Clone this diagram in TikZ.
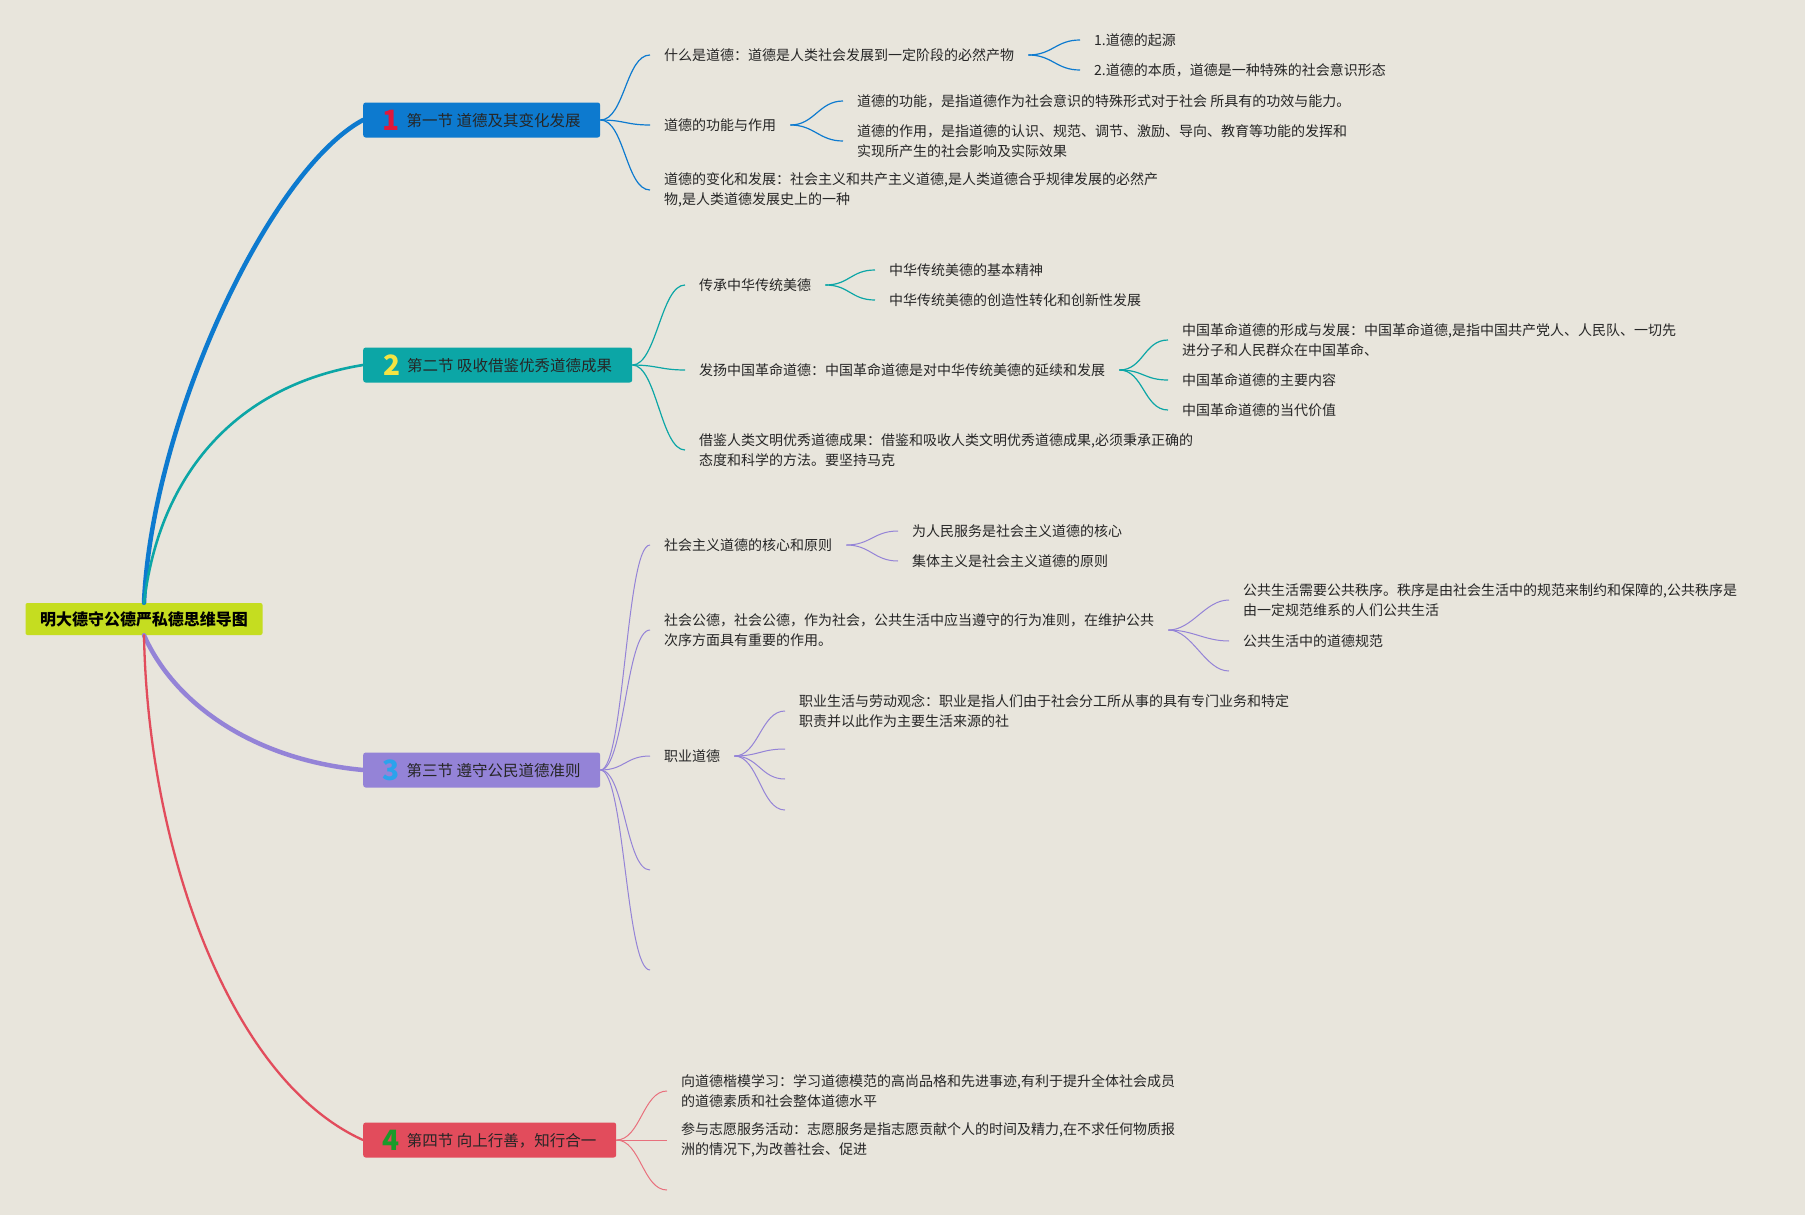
\documentclass[tikz,border=0pt]{standalone}
\usepackage{fontspec}
\setmainfont{Noto Sans CJK SC}
\definecolor{bgc}{RGB}{232,229,220}
\definecolor{rootc}{RGB}{197,221,32}
\definecolor{bluec}{RGB}{13,122,207}
\definecolor{tealc}{RGB}{12,166,166}
\definecolor{purc}{RGB}{148,131,215}
\definecolor{redc}{RGB}{226,76,92}
\definecolor{numred}{RGB}{224,24,60}
\definecolor{numyel}{RGB}{245,228,66}
\definecolor{numblu}{RGB}{43,163,236}
\definecolor{numgrn}{RGB}{27,154,42}
\definecolor{txtc}{RGB}{38,38,38}
\newcommand\secnum[2]{\raisebox{-4pt}{\fontsize{28}{28}\selectfont\bfseries\color{#1}#2}\hspace{7pt}}

\begin{document}
\begin{tikzpicture}[x=1pt, y=-1pt,
    rootbox/.style={fill=rootc, rounded corners=2pt, minimum width=237pt, minimum height=32pt, inner sep=0pt, font=\fontsize{16}{16}\selectfont\bfseries},
    secbox/.style={fill=#1, rounded corners=2.5pt, anchor=west, minimum height=35pt, inner ysep=1pt, text=black!85, font=\fontsize{15.5}{16}\selectfont},
    leaf/.style={anchor=west, inner xsep=14pt, inner ysep=2pt, align=left, text=txtc, font=\fontsize{14}{19.5}\selectfont},
    trunk/.style={draw=#1, line cap=round},
    twig/.style={draw=#1, line width=1.2pt, out=0, in=180, distance=24pt}]
    \fill[bgc] (0,0) rectangle (1805,1215);
    \useasboundingbox (0,0) rectangle (1805,1215);

    \node[rootbox] (root) at (144,619) {明大德守公德严私德思维导图};

    \node[secbox=bluec, minimum width=237pt] (s1) at (363,120) {\secnum{numred}{1}第一节 道德及其变化发展};
    \node[secbox=tealc, minimum width=269pt] (s2) at (363,365) {\secnum{numyel}{2}第二节 吸收借鉴优秀道德成果};
    \node[secbox=purc, minimum width=237pt] (s3) at (363,770) {\secnum{numblu}{3}第三节 遵守公民道德准则};
    \node[secbox=redc, minimum width=253pt] (s4) at (363,1140) {\secnum{numgrn}{4}第四节 向上行善，知行合一};

    \draw[trunk=bluec, line width=4.5pt] (root.north) .. controls (152,420) and (270,170) .. (s1.west);
    \draw[trunk=tealc, line width=2.6pt] (root.north) .. controls (160,470) and (240,385) .. (s2.west);
    \draw[trunk=purc, line width=4.5pt] (root.south) .. controls (175,705) and (255,760) .. (s3.west);
    \draw[trunk=redc, line width=2.3pt] (root.south) .. controls (148,850) and (230,1080) .. (s4.west);

    \node[leaf] (a1) at (650,55) {什么是道德：道德是人类社会发展到一定阶段的必然产物};
    \node[leaf] (a11) at (1080,40) {1.道德的起源};
    \node[leaf] (a12) at (1080,70) {2.道德的本质，道德是一种特殊的社会意识形态};
    \node[leaf] (a2) at (650,125) {道德的功能与作用};
    \node[leaf] (a21) at (843,101) {道德的功能，是指道德作为社会意识的特殊形式对于社会 所具有的功效与能力。};
    \node[leaf] (a22) at (843,141) {道德的作用，是指道德的认识、规范、调节、激励、导向、教育等功能的发挥和\\实现所产生的社会影响及实际效果};
    \node[leaf] (a3) at (650,190) {道德的变化和发展：社会主义和共产主义道德,是人类道德合乎规律发展的必然产\\物,是人类道德发展史上的一种};

    \draw[twig=bluec] (s1.east) to (a1.west);
    \draw[twig=bluec] (s1.east) to (a2.west);
    \draw[twig=bluec] (s1.east) to (a3.west);
    \draw[twig=bluec] (a1.east) to (a11.west);
    \draw[twig=bluec] (a1.east) to (a12.west);
    \draw[twig=bluec] (a2.east) to (a21.west);
    \draw[twig=bluec] (a2.east) to (a22.west);

    \node[leaf] (b1) at (685,285) {传承中华传统美德};
    \node[leaf] (b11) at (875,270) {中华传统美德的基本精神};
    \node[leaf] (b12) at (875,300) {中华传统美德的创造性转化和创新性发展};
    \node[leaf] (b2) at (685,370) {发扬中国革命道德：中国革命道德是对中华传统美德的延续和发展};
    \node[leaf] (b21) at (1168,340) {中国革命道德的形成与发展：中国革命道德,是指中国共产党人、人民队、一切先\\进分子和人民群众在中国革命、};
    \node[leaf] (b22) at (1168,380) {中国革命道德的主要内容};
    \node[leaf] (b23) at (1168,410) {中国革命道德的当代价值};
    \node[leaf] (b3) at (685,450) {借鉴人类文明优秀道德成果：借鉴和吸收人类文明优秀道德成果,必须秉承正确的\\态度和科学的方法。要坚持马克};

    \draw[twig=tealc] (s2.east) to (b1.west);
    \draw[twig=tealc] (s2.east) to (b2.west);
    \draw[twig=tealc] (s2.east) to (b3.west);
    \draw[twig=tealc] (b1.east) to (b11.west);
    \draw[twig=tealc] (b1.east) to (b12.west);
    \draw[twig=tealc] (b2.east) to (b21.west);
    \draw[twig=tealc] (b2.east) to (b22.west);
    \draw[twig=tealc] (b2.east) to (b23.west);

    \node[leaf] (c1) at (650,545) {社会主义道德的核心和原则};
    \node[leaf] (c11) at (898,531) {为人民服务是社会主义道德的核心};
    \node[leaf] (c12) at (898,561) {集体主义是社会主义道德的原则};
    \node[leaf] (c2) at (650,630) {社会公德，社会公德，作为社会，公共生活中应当遵守的行为准则，在维护公共\\次序方面具有重要的作用。};
    \node[leaf] (c21) at (1229,600) {公共生活需要公共秩序。秩序是由社会生活中的规范来制约和保障的,公共秩序是\\由一定规范维系的人们公共生活};
    \node[leaf] (c22) at (1229,641) {公共生活中的道德规范};
    \coordinate (c23) at (1229,671);
    \node[leaf] (c3) at (650,756) {职业道德};
    \node[leaf] (c31) at (785,711) {职业生活与劳动观念：职业是指人们由于社会分工所从事的具有专门业务和特定\\职责并以此作为主要生活来源的社};
    \coordinate (c32) at (785,749);
    \coordinate (c33) at (785,779);
    \coordinate (c34) at (785,810);
    \coordinate (c4) at (650,870);
    \coordinate (c5) at (650,970);

    \draw[twig=purc, line width=1pt] (s3.east) to (c1.west);
    \draw[twig=purc, line width=1pt] (s3.east) to (c2.west);
    \draw[twig=purc, line width=1pt] (s3.east) to (c3.west);
    \draw[twig=purc, line width=1pt] (s3.east) to (c4);
    \draw[twig=purc, line width=1pt] (s3.east) to (c5);
    \draw[twig=purc, line width=1pt] (c1.east) to (c11.west);
    \draw[twig=purc, line width=1pt] (c1.east) to (c12.west);
    \draw[twig=purc, line width=1pt] (c2.east) to (c21.west);
    \draw[twig=purc, line width=1pt] (c2.east) to (c22.west);
    \draw[twig=purc, line width=1pt] (c2.east) to (c23);
    \draw[twig=purc, line width=1pt] (c3.east) to (c31.west);
    \draw[twig=purc, line width=1pt] (c3.east) to (c32);
    \draw[twig=purc, line width=1pt] (c3.east) to (c33);
    \draw[twig=purc, line width=1pt] (c3.east) to (c34);

    \node[leaf] (d1) at (667,1091) {向道德楷模学习：学习道德模范的高尚品格和先进事迹,有利于提升全体社会成员\\的道德素质和社会整体道德水平};
    \node[leaf] (d2) at (667,1140) {参与志愿服务活动：志愿服务是指志愿贡献个人的时间及精力,在不求任何物质报\\洲的情况下,为改善社会、促进};
    \coordinate (d3) at (667,1190);

    \draw[twig=redc!80, line width=1pt] (s4.east) to (d1.west);
    \draw[twig=redc!80, line width=1pt] (s4.east) to (d2.west);
    \draw[twig=redc!80, line width=1pt] (s4.east) to (d3);
\end{tikzpicture}
\end{document}
